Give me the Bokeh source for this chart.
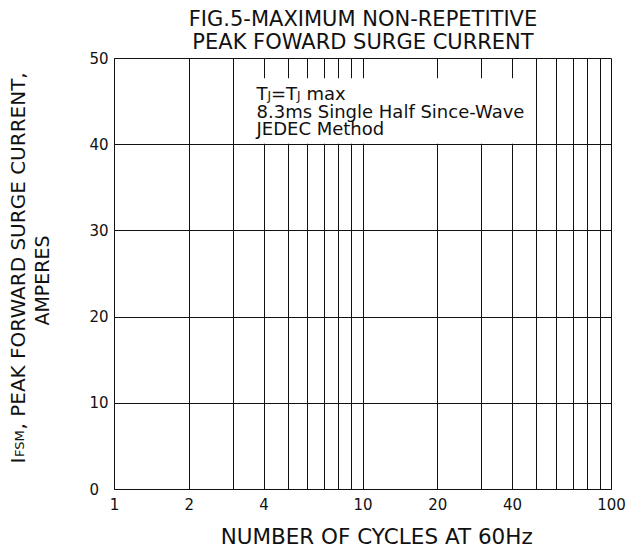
import math
from bokeh.plotting import figure
from bokeh.layouts import row
from bokeh.models import (FixedTicker, Range1d, Label, BoxAnnotation,
                          NumeralTickFormatter, Title)
from bokeh.embed import file_html
from bokeh.resources import INLINE

# ---- chart content ----
x_limits = [1, 100]
y_limits = [0, 50]
x_label_ticks = [1, 2, 4, 10, 20, 40, 100]
x_grid_lines = [2, 3, 4, 5, 6, 7, 8, 9, 10, 20, 30, 40, 50, 60, 70, 80, 90]
y_ticks = [0, 10, 20, 30, 40, 50]
title_lines = ["FIG.5-MAXIMUM NON-REPETITIVE", "PEAK FOWARD SURGE CURRENT"]
x_title = "NUMBER OF CYCLES AT 60Hz"
y_title_parts = ["I", "FSM", ", PEAK FORWARD SURGE CURRENT,"]
y_title_unit = "AMPERES"
note_line1_parts = ["T", "J", "=T", "J", "max"]
note_lines = ["8.3ms Single Half Since-Wave", "JEDEC Method"]

FONT = "DejaVu Sans"
INK = "#111111"
H = 551
LEFT_W = 60

# ---------------- main chart ----------------
p = figure(width=631 - LEFT_W, height=H, x_axis_type="log",
           x_range=Range1d(*x_limits), y_range=Range1d(*y_limits),
           output_backend="svg", toolbar_location=None, title=None,
           min_border_left=54, min_border_right=20,
           min_border_top=58, min_border_bottom=62)
p.background_fill_color = "white"
p.border_fill_color = "white"
p.outline_line_color = INK
p.outline_line_alpha = 1
p.outline_line_width = 1

for ax in (p.xaxis[0], p.yaxis[0]):
    ax.axis_line_color = INK
    ax.major_tick_line_color = None
    ax.minor_tick_line_color = None
    ax.major_tick_in = 0
    ax.major_tick_out = 0
    ax.major_label_text_font = FONT
    ax.major_label_text_font_size = "15px"
    ax.major_label_text_color = INK

p.xaxis.ticker = FixedTicker(ticks=x_label_ticks)
p.xaxis.formatter = NumeralTickFormatter(format="0")
p.xaxis.major_label_standoff = 8
p.yaxis.ticker = FixedTicker(ticks=y_ticks)
p.yaxis.major_label_standoff = 6
p.yaxis.major_label_overrides = {0: "0\u2007"}

# x axis title (figure spaces nudge it right of the frame centre, as in the original)
p.xaxis.axis_label = "\u2007\u2007" + x_title
p.xaxis.axis_label_text_font = FONT
p.xaxis.axis_label_text_font_size = "21.5px"
p.xaxis.axis_label_text_font_style = "normal"
p.xaxis.axis_label_text_color = INK
p.xaxis.axis_label_standoff = 11

p.xgrid.ticker = FixedTicker(ticks=x_grid_lines)
p.ygrid.ticker = FixedTicker(ticks=y_ticks)
for g in (p.xgrid[0], p.ygrid[0]):
    g.grid_line_color = INK
    g.grid_line_alpha = 1
    g.grid_line_width = 1

# two-line title above the frame (outermost added last)
p.add_layout(Title(text=title_lines[1], align="center", text_font=FONT,
                   text_font_size="21px", text_font_style="normal",
                   text_color=INK, standoff=9), "above")
p.add_layout(Title(text=title_lines[0], align="center", text_font=FONT,
                   text_font_size="21px", text_font_style="normal",
                   text_color=INK, standoff=-15), "above")

# white panel behind the note text
p.add_layout(BoxAnnotation(left=3.6, right=46, bottom=40.12, top=47.7,
                           fill_color="white", fill_alpha=1, line_color=None))


def lab(fig, text, x, y, size, align="left", angle=0.0):
    fig.add_layout(Label(x=x, y=y, x_units="screen", y_units="screen", text=text,
                         text_font=FONT, text_font_size=f"{size}px", text_color=INK,
                         text_align=align, text_baseline="middle", angle=angle))


# note text inside the chart
lab(p, note_line1_parts[0], 142, 395.9, 18)
lab(p, note_line1_parts[1], 153.0, 393.85, 12)
lab(p, note_line1_parts[2], 156.5, 395.9, 18)
lab(p, note_line1_parts[3], 182.6, 393.85, 12)
lab(p, note_line1_parts[4], 191.9, 395.9, 18)
lab(p, note_lines[0], 142, 378.5, 18)
lab(p, note_lines[1], 142, 361.2, 18)

# ---------------- y title strip (rotated text with small-caps subscript) ----------------
q = figure(width=LEFT_W, height=H, x_range=Range1d(0, 1), y_range=Range1d(0, 1),
           output_backend="svg", toolbar_location=None, title=None,
           x_axis_location=None, y_axis_location=None,
           min_border_left=0, min_border_right=0, min_border_top=0, min_border_bottom=0)
q.outline_line_color = None
q.grid.visible = False
q.background_fill_color = "white"
q.border_fill_color = "white"

rot = math.pi / 2
lab(q, y_title_parts[0], 17, 26, 20, angle=rot)
lab(q, y_title_parts[1], 19.4, 32.5, 13, angle=rot)
lab(q, y_title_parts[2], 17, 60, 20, angle=rot)
lab(q, y_title_unit, 41.5, 209, 19, "center", angle=rot)

layout = row(q, p, spacing=0)
open("out.html", "w").write(file_html(layout, INLINE))
